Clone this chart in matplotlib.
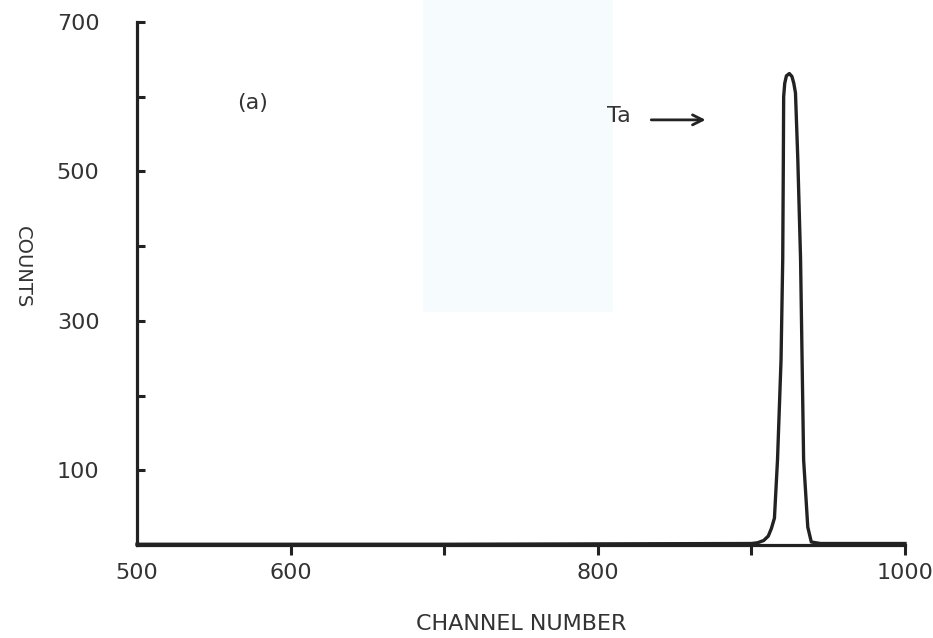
import matplotlib
matplotlib.use("Agg")
import matplotlib.pyplot as plt
from matplotlib.patches import Rectangle

# ---- data ----
channel = [500, 700, 900, 904, 908, 911, 913, 915, 917, 919.3, 920.4, 920.8, 921,
           921.7, 922.8, 924.7, 926.4, 927.6, 928.7, 930.2, 932, 933, 934, 936.7, 939,
           945, 1000]
counts = [1, 1, 2, 3, 6, 12, 22, 36, 114, 248, 383, 517, 600,
          618, 628, 631, 627, 618, 605, 517, 383, 248, 114, 24, 4,
          2, 2]

x_major = [500, 600, 700, 800, 900, 1000]
x_labels = ["500", "600", "", "800", "", "1000"]
y_major = [100, 300, 500, 700]
y_minor = [200, 400, 600]

ink = "#222222"
txt = "#333333"

fig = plt.figure(figsize=(9.33, 6.38), dpi=100)
fig.patch.set_facecolor("white")
# faint scan tint
fig.patches.append(Rectangle((423 / 933, 1 - 312 / 638), (613 - 423) / 933, 312 / 638,
                             transform=fig.transFigure, facecolor="#f6fbfd",
                             edgecolor="none", zorder=-10))

ax = fig.add_axes([137 / 933, 93 / 638, 768 / 933, 523 / 638])
ax.set_facecolor("none")
ax.plot(channel, counts, color=ink, lw=2.4, solid_joinstyle="round", clip_on=False)

ax.set_xlim(500, 1000)
ax.set_ylim(0, 700)
for s in ["top", "right"]:
    ax.spines[s].set_visible(False)
for s in ["left", "bottom"]:
    ax.spines[s].set_linewidth(2.3)
    ax.spines[s].set_color(ink)

ax.set_xticks(x_major)
ax.set_xticklabels(x_labels)
ax.xaxis.get_major_ticks()[0].tick1line.set_visible(False)
ax.tick_params(axis="x", direction="out", length=7, width=2.2, color=ink,
               pad=6, labelsize=16, labelcolor=txt)

ax.set_yticks(y_major)
ax.set_yticks(y_minor, minor=True)
ax.tick_params(axis="y", which="both", direction="in", length=6, width=2.2,
               color=ink, pad=27, labelsize=16, labelcolor=txt)
ax.tick_params(axis="y", which="minor", labelleft=False)

ax.set_xlabel("CHANNEL NUMBER", fontsize=16, color=txt, labelpad=22)
fig.text(22 / 933, 1 - 267 / 638, "COUNTS", rotation=270, fontsize=14,
         color=txt, ha="center", va="center")

ax.text(575, 592, "(a)", fontsize=16, color=txt, ha="center", va="center")
ax.text(814, 574, "Ta", fontsize=16, color=txt, ha="center", va="center")
ax.annotate("", xy=(872, 569), xytext=(833, 569),
            arrowprops=dict(arrowstyle="->", lw=2, color=ink,
                            mutation_scale=18))

fig.savefig("out.png", dpi=100)
